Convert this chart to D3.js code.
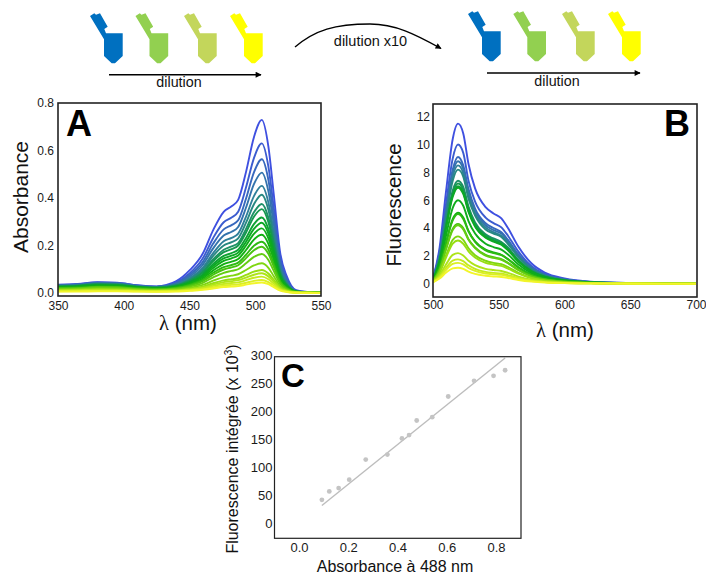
<!DOCTYPE html>
<html><head><meta charset="utf-8">
<script src="https://cdn.jsdelivr.net/npm/d3@7"></script>
<style>html,body{margin:0;padding:0;background:#fff}svg{display:block}text{font-family:"Liberation Sans",Arial,sans-serif;fill:#111}</style>
</head><body><svg id="c" width="706" height="579"></svg>
<script>
const wavelengthsA=[350,365,380,395,410,425,440,450,460,468,476,482,487,493,499,505,510,514,519,524,531,540,550];
const absorbance=[
[.035,.038,.045,.043,.033,.028,.050,.095,.165,.265,.342,.365,.392,.510,.656,.729,.616,.420,.168,.070,.012,.004,.002],
[.034,.037,.044,.042,.032,.027,.045,.082,.145,.232,.298,.318,.342,.445,.568,.630,.532,.363,.145,.060,.010,.004,.002],
[.033,.036,.042,.040,.031,.026,.042,.075,.130,.208,.268,.286,.306,.398,.508,.563,.476,.324,.130,.054,.009,.003,.002],
[.032,.035,.041,.040,.030,.026,.039,.068,.118,.188,.242,.258,.278,.360,.458,.507,.428,.292,.117,.049,.008,.003,.002],
[.031,.033,.040,.038,.029,.025,.036,.062,.106,.168,.218,.232,.250,.322,.408,.451,.381,.260,.104,.043,.008,.003,.002],
[.030,.032,.038,.037,.028,.024,.034,.058,.098,.156,.200,.214,.230,.296,.374,.414,.350,.238,.095,.040,.007,.003,.002],
[.029,.031,.037,.035,.027,.023,.032,.053,.090,.142,.182,.196,.210,.270,.340,.375,.317,.216,.086,.036,.007,.003,.001],
[.028,.030,.036,.034,.026,.022,.031,.050,.085,.134,.172,.185,.200,.255,.321,.353,.298,.203,.081,.034,.006,.003,.001],
[.027,.029,.034,.033,.025,.021,.029,.046,.077,.122,.156,.168,.182,.232,.290,.318,.269,.183,.073,.031,.006,.002,.001],
[.025,.027,.032,.031,.024,.020,.027,.043,.072,.114,.146,.157,.170,.216,.270,.296,.250,.170,.068,.028,.005,.002,.001],
[.024,.026,.031,.029,.022,.019,.026,.040,.067,.105,.135,.146,.158,.200,.249,.272,.230,.157,.063,.026,.005,.002,.001],
[.022,.024,.029,.028,.021,.018,.024,.037,.061,.095,.122,.132,.143,.181,.225,.245,.207,.141,.056,.024,.005,.002,.001],
[.021,.023,.027,.026,.020,.017,.022,.034,.055,.085,.109,.118,.128,.161,.199,.216,.183,.124,.050,.021,.004,.002,.001],
[.019,.021,.025,.024,.018,.015,.020,.031,.050,.077,.099,.108,.117,.147,.180,.195,.165,.112,.045,.019,.004,.002,.001],
[.018,.019,.023,.022,.017,.014,.018,.027,.043,.066,.085,.093,.100,.125,.152,.164,.139,.094,.038,.016,.003,.001,.001],
[.015,.016,.019,.018,.014,.012,.015,.022,.034,.052,.067,.073,.079,.097,.116,.125,.106,.072,.029,.012,.003,.001,.001],
[.013,.014,.016,.015,.012,.010,.012,.018,.027,.041,.053,.058,.062,.076,.090,.097,.082,.056,.023,.010,.002,.001,.001],
[.011,.012,.014,.013,.010,.009,.011,.016,.023,.035,.046,.050,.054,.065,.077,.083,.070,.048,.019,.008,.002,.001,.001],
[.009,.010,.011,.011,.009,.008,.009,.013,.020,.030,.038,.042,.045,.054,.064,.069,.058,.040,.016,.007,.002,.001,.000],
[.007,.008,.009,.009,.007,.006,.008,.011,.016,.024,.031,.034,.036,.043,.051,.055,.046,.032,.013,.005,.001,.001,.000],
[.006,.006,.007,.007,.006,.005,.006,.009,.013,.019,.025,.027,.029,.035,.041,.044,.037,.025,.010,.004,.001,.000,.000]];
const wavelengthsB=[500,505,510,515,519,523,527,532,540,546,552,557,565,575,585,600,620,650,700];
const fluorescence=[
[.40,2.6,6.7,10.4,11.5,10.8,8.6,6.85,5.5,5.05,4.7,4.0,2.65,1.45,.80,.38,.15,.05,.0],
[.38,2.3,5.8,9.0,10.0,9.4,7.4,5.9,4.75,4.35,4.05,3.45,2.3,1.25,.70,.33,.13,.04,.0],
[.36,2.1,5.3,8.2,9.1,8.5,6.8,5.4,4.35,4.0,3.7,3.15,2.1,1.15,.64,.30,.12,.04,.0],
[.35,2.0,5.1,7.95,8.8,8.25,6.6,5.25,4.2,3.85,3.6,3.05,2.0,1.1,.62,.29,.11,.04,0],
[.34,1.95,4.95,7.7,8.5,7.95,6.35,5.05,4.05,3.7,3.45,2.95,1.95,1.07,.60,.28,.11,.03,0],
[.33,1.9,4.8,7.4,8.2,7.7,6.1,4.9,3.9,3.6,3.35,2.85,1.9,1.03,.58,.27,.11,.03,0],
[.31,1.7,4.3,6.7,7.4,6.95,5.55,4.4,3.55,3.25,3.0,2.6,1.7,.93,.52,.24,.10,.03,0],
[.30,1.65,4.2,6.5,7.2,6.75,5.4,4.3,3.45,3.15,2.95,2.5,1.65,.9,.5,.24,.09,.03,0],
[.29,1.6,4.1,6.35,7.0,6.55,5.25,4.15,3.35,3.07,2.85,2.45,1.6,.88,.49,.23,.09,.03,0],
[.28,1.58,4.05,6.25,6.9,6.45,5.15,4.1,3.3,3.02,2.8,2.4,1.58,.87,.48,.23,.09,.03,0],
[.26,1.4,3.5,5.45,6.0,5.6,4.5,3.6,2.87,2.63,2.45,2.1,1.38,.76,.42,.2,.08,.02,0],
[.24,1.2,3.0,4.65,5.1,4.75,3.8,3.05,2.45,2.25,2.08,1.78,1.18,.65,.36,.17,.07,.02,0],
[.23,1.18,2.95,4.55,5.0,4.65,3.75,3.0,2.4,2.2,2.05,1.75,1.15,.63,.35,.17,.07,.02,0],
[.21,1.02,2.55,3.95,4.3,4.0,3.2,2.6,2.07,1.9,1.77,1.5,1.0,.55,.3,.14,.06,.02,0],
[.20,1.0,2.5,3.85,4.2,3.9,3.15,2.55,2.02,1.85,1.72,1.47,.97,.53,.3,.14,.05,.02,0],
[.18,.85,2.05,3.15,3.4,3.15,2.55,2.05,1.65,1.5,1.4,1.2,.78,.43,.24,.11,.04,.01,0],
[.17,.78,1.9,2.88,3.1,2.87,2.33,1.88,1.5,1.38,1.28,1.09,.72,.39,.22,.1,.04,.01,0],
[.14,.6,1.4,2.07,2.2,2.03,1.65,1.33,1.07,.98,.91,.78,.51,.28,.16,.07,.03,.01,0],
[.13,.5,1.15,1.66,1.75,1.62,1.32,1.07,.85,.78,.73,.62,.41,.22,.12,.06,.02,.01,0],
[.12,.45,1.0,1.43,1.5,1.39,1.13,.92,.73,.67,.63,.53,.35,.19,.11,.05,.02,.01,0],
[.1,.37,.8,1.1,1.15,1.07,.87,.7,.57,.52,.48,.41,.27,.15,.08,.04,.02,0,0]];
const absC=[.093,.123,.161,.204,.271,.359,.418,.447,.478,.541,.606,.711,.79,.837];
const fluoC=[42,57,63,78,114,123,152,158,184,190,227,255,264,274];
const fitX=[.093,.837];
const fitY=[32,296];
const rampStops=["#3f50e0","#2f7f9a","#0aa52a","#12b012","#8fdc10","#f2f52a"];
const rampPos=[0,.2,.42,.55,.78,1];
const pipetteColors=["#0070c0","#92d050","#c3d65b","#ffff00"];
const xTicksA=[350,400,450,500,550], yTicksA=[0,.2,.4,.6,.8];
const xTicksB=[500,550,600,650,700], yTicksB=[0,2,4,6,8,10,12];
const xTicksC=[0,.2,.4,.6,.8], yTicksC=[0,50,100,150,200,250,300];

const svg=d3.select("#c");
const ramp=d3.scaleLinear().domain(rampPos).range(rampStops);

function panel(o){
  const x=d3.scaleLinear().domain(o.xd).range(o.xr), y=d3.scaleLinear().domain(o.yd).range(o.yr);
  const g=svg.append("g");
  const ax=g.append("g").attr("transform",`translate(0,${o.f[3]})`).call(d3.axisBottom(x).tickValues(o.xt).tickSize(0).tickPadding(o.xp).tickFormat(o.xf));
  const ay=g.append("g").attr("transform",`translate(${o.f[0]},0)`).call(d3.axisLeft(y).tickValues(o.yt).tickSize(0).tickPadding(o.yp).tickFormat(o.yf));
  [ax,ay].forEach(a=>{a.select(".domain").remove();a.selectAll("text").attr("font-size",o.fs).attr("font-family",'"Liberation Sans",Arial,sans-serif').style("fill","#1a1a1a");});
  return {x,y,g};
}
function frame(g,f,sw){g.append("rect").attr("x",f[0]).attr("y",f[1]).attr("width",f[2]-f[0]).attr("height",f[3]-f[1]).attr("fill","none").attr("stroke","#222").attr("stroke-width",sw);}
function spectra(p,ws,rows,id,f){
  svg.append("clipPath").attr("id",id).append("rect").attr("x",f[0]).attr("y",f[1]).attr("width",f[2]-f[0]).attr("height",f[3]-f[1]);
  const line=d3.line().x((d,i)=>p.x(ws[i])).y(d=>p.y(d)).curve(d3.curveMonotoneX);
  p.g.append("g").attr("clip-path",`url(#${id})`).selectAll("path").data(rows).join("path")
   .attr("d",line).attr("fill","none").attr("stroke-width",1.9).attr("stroke",(d,i)=>ramp(i/(rows.length-1)));
}
// Panel A
const fA=[58,103,321,296];
const pA=panel({xd:[350,550],xr:[58,321],yd:[0,.8],yr:[293,103],xt:xTicksA,yt:yTicksA,f:fA,xp:5,yp:4,fs:12,xf:d3.format("d"),yf:d3.format(".1f")});
spectra(pA,wavelengthsA,absorbance,"ca",fA); frame(pA.g,fA,1.6);
// Panel B
const fB=[433,104,697,297];
const pB=panel({xd:[500,700],xr:[433,696],yd:[0,12],yr:[283.7,116.7],xt:xTicksB,yt:yTicksB,f:fB,xp:3,yp:3,fs:12,xf:d3.format("d"),yf:d3.format("d")});
spectra(pB,wavelengthsB,fluorescence,"cb",fB); frame(pB.g,fB,1.6);
// Panel C
const fC=[274.5,356.7,521,538.3];
const pC=panel({xd:[0,.8],xr:[299,496],yd:[0,300],yr:[523.3,355.7],xt:xTicksC,yt:yTicksC,f:fC,xp:4,yp:2,fs:13,xf:d3.format(".1f"),yf:d3.format("d")});
pC.g.append("line").attr("x1",pC.x(fitX[0])).attr("x2",pC.x(fitX[1])).attr("y1",pC.y(fitY[0])).attr("y2",pC.y(fitY[1])).attr("stroke","#bdbdbd").attr("stroke-width",1.4);
pC.g.selectAll("circle").data(absC).join("circle").attr("cx",d=>pC.x(d)).attr("cy",(d,i)=>pC.y(fluoC[i])).attr("r",2.4).attr("fill","#c4c4c4");
frame(pC.g,fC,1.2);

function label(t,x,y,fs,opt={}){const e=svg.append("text").attr("x",x).attr("y",y).attr("font-size",fs).attr("text-anchor",opt.a||"middle").text(t);
 if(opt.b)e.attr("font-weight","bold");if(opt.r)e.attr("transform",`rotate(-90 ${x} ${y})`);return e;}
function lambda(x,y,fs){const e=svg.append("text").attr("x",x).attr("y",y).attr("font-size",fs).attr("text-anchor","middle");
 e.append("tspan").style("font-family",'"Liberation Serif",serif').text("λ");e.append("tspan").text(" (nm)");}
label("A",79,136,36,{b:1}).style("fill","#000");
label("B",677,136,36,{b:1}).style("fill","#000");
label("C",293,387,33,{b:1}).style("fill","#000");
label("Absorbance",28,197,21,{r:1});
label("Fluorescence",401,205,20.5,{r:1});
lambda(188,330,20.5);
lambda(565,337,20.5);
label("Absorbance à 488 nm",395,572,16);
const yl=label("Fluorescence intégrée (x 10",238,449,16,{r:1});
yl.append("tspan").attr("dy",-6).attr("font-size",10).text("3");
yl.append("tspan").attr("dy",6).text(")");

// pipettes
const pip="M90,16L94.3,13.3L96,14.7L100,13.3L107.7,26.7L104.3,29L106,33.3L122.7,33.3L122.7,56L115,63.3L111.7,63.3L104,56L104,39.3Z";
[[0,0],[45.5,0],[94,0],[140,0],[378,-2],[423.3,-2],[472,-2],[518,-2]].forEach((t,i)=>{
 svg.append("path").attr("d",pip).attr("transform",`translate(${t[0]},${t[1]})`).attr("fill",pipetteColors[i%4]);});
const defs=svg.append("defs");
defs.append("marker").attr("id","ah").attr("viewBox","0 0 10 10").attr("refX",9).attr("refY",5).attr("markerWidth",7).attr("markerHeight",6).attr("markerUnits","userSpaceOnUse").attr("orient","auto").append("path").attr("d","M0,0L10,5L0,10Z").attr("fill","#000");
[[109,261,74.7],[487,640,73]].forEach(a=>svg.append("line").attr("x1",a[0]).attr("x2",a[1]).attr("y1",a[2]).attr("y2",a[2]).attr("stroke","#000").attr("stroke-width",1.4).attr("marker-end","url(#ah)"));
svg.append("path").attr("d","M295,47C315,30 335,24 370,24C395,24 415,34 441,48.5").attr("fill","none").attr("stroke","#000").attr("stroke-width",1.4).attr("marker-end","url(#ah)");
label("dilution",179,87,14.3);
label("dilution",557,85.5,14.3);
label("dilution x10",370.5,46,14.5);
</script></body></html>
